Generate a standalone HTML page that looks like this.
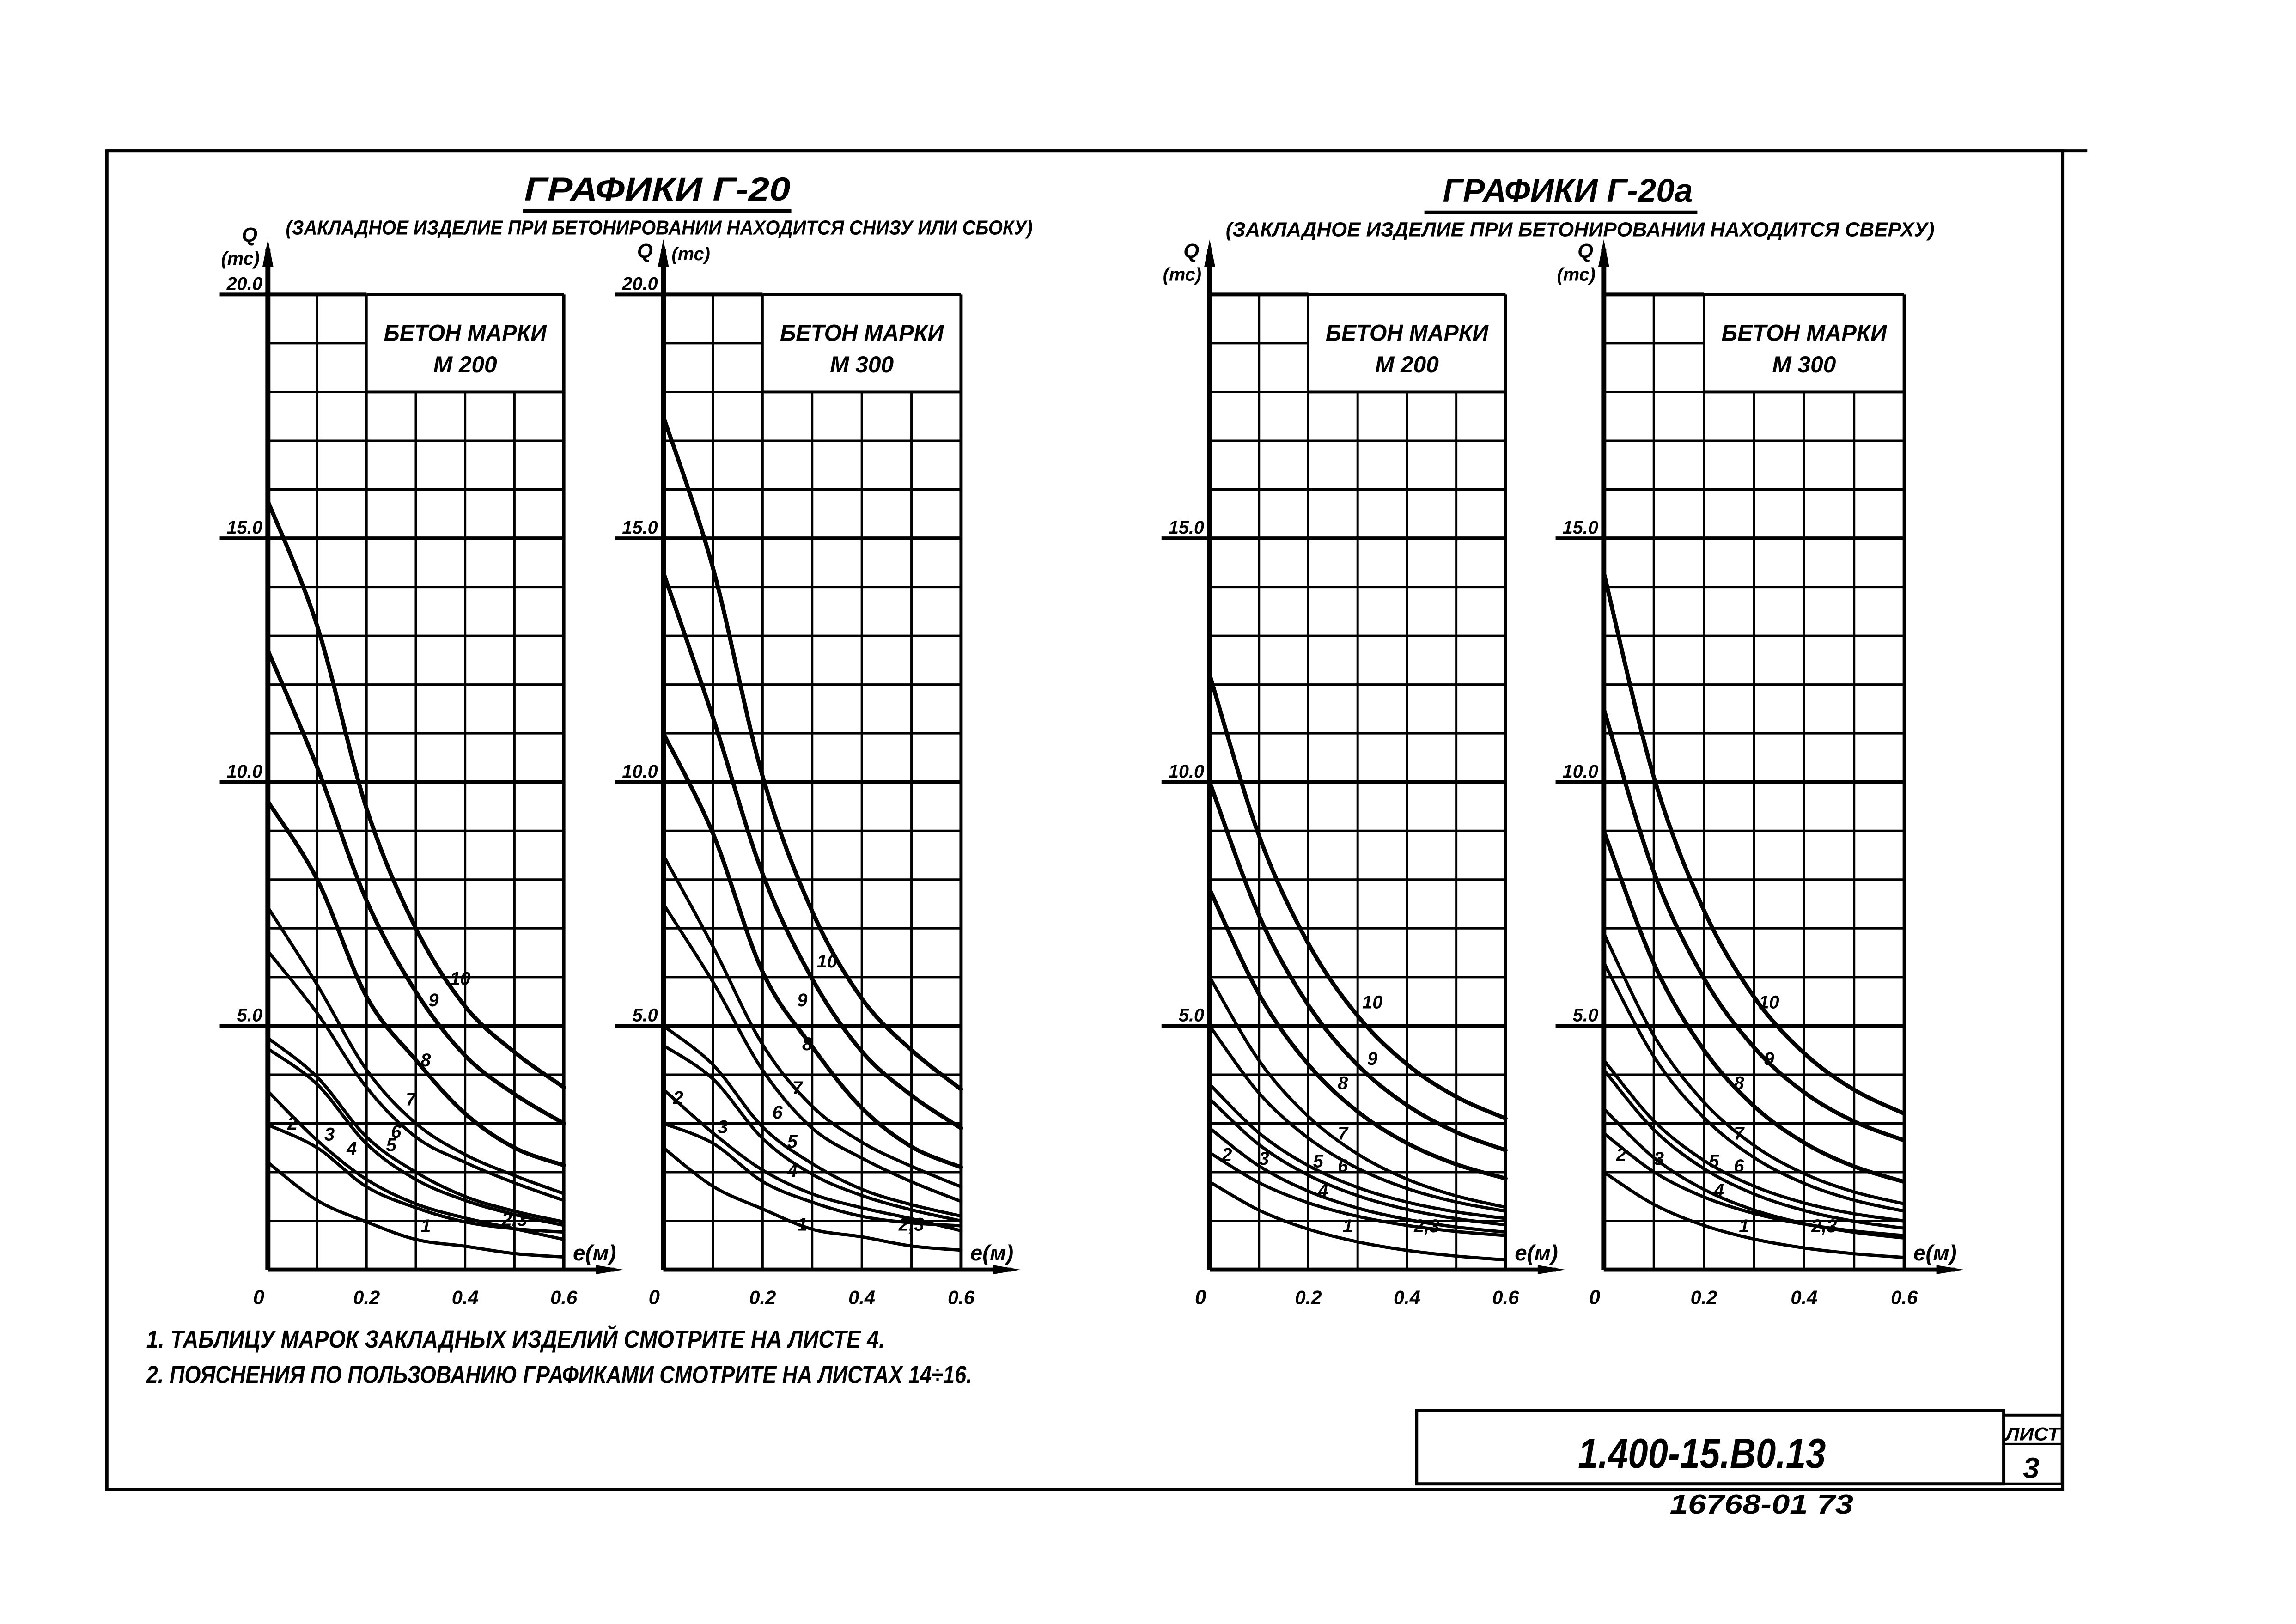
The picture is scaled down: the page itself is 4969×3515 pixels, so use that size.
<!DOCTYPE html>
<html><head><meta charset="utf-8">
<style>
html,body{margin:0;padding:0;background:#fff;}
svg{display:block;}
text{font-family:"Liberation Sans","DejaVu Sans",sans-serif;font-style:italic;font-weight:bold;fill:#000;}
</style></head>
<body>
<svg id="s" xmlns="http://www.w3.org/2000/svg" width="4969" height="3515" viewBox="0 0 4969 3515">
<rect width="4969" height="3515" fill="#fff"/>
<g transform="scale(0.9928)">
<rect x="233" y="329" width="4263" height="2918" fill="none" stroke="#000" stroke-width="7"/>
<line x1="233" y1="329" x2="4550" y2="329" stroke="#000" stroke-width="7"/>
<text x="1143" y="437" font-size="72" textLength="580" lengthAdjust="spacingAndGlyphs">ГРАФИКИ Г-20</text>
<line x1="1140" y1="460" x2="1725" y2="460" stroke="#000" stroke-width="8"/>
<text x="623" y="511" font-size="44" textLength="1628" lengthAdjust="spacingAndGlyphs">(ЗАКЛАДНОЕ ИЗДЕЛИЕ ПРИ БЕТОНИРОВАНИИ НАХОДИТСЯ СНИЗУ ИЛИ СБОКУ)</text>
<text x="3145" y="440" font-size="72" textLength="545" lengthAdjust="spacingAndGlyphs">ГРАФИКИ Г-20а</text>
<line x1="3105" y1="463" x2="3700" y2="463" stroke="#000" stroke-width="8"/>
<text x="2672" y="515" font-size="44" textLength="1545" lengthAdjust="spacingAndGlyphs">(ЗАКЛАДНОЕ ИЗДЕЛИЕ ПРИ БЕТОНИРОВАНИИ НАХОДИТСЯ СВЕРХУ)</text>
<text x="319" y="2938" font-size="54" textLength="1610" lengthAdjust="spacingAndGlyphs">1. ТАБЛИЦУ МАРОК ЗАКЛАДНЫХ ИЗДЕЛИЙ СМОТРИТЕ НА ЛИСТЕ 4.</text>
<text x="319" y="3015" font-size="54" textLength="1800" lengthAdjust="spacingAndGlyphs">2. ПОЯСНЕНИЯ ПО ПОЛЬЗОВАНИЮ ГРАФИКАМИ СМОТРИТЕ НА ЛИСТАХ 14÷16.</text>
<rect x="3088" y="3075" width="1280" height="160" fill="none" stroke="#000" stroke-width="7"/>
<rect x="4368" y="3085" width="127" height="150" fill="none" stroke="#000" stroke-width="6"/>
<line x1="4368" y1="3148" x2="4495" y2="3148" stroke="#000" stroke-width="5"/>
<text x="4372" y="3140" font-size="40" textLength="118" lengthAdjust="spacingAndGlyphs">ЛИСТ</text>
<text x="4410" y="3222" font-size="64">3</text>
<text x="3440" y="3200" font-size="92" textLength="540" lengthAdjust="spacingAndGlyphs">1.400-15.В0.13</text>
<text x="3640" y="3300" font-size="60" textLength="400" lengthAdjust="spacingAndGlyphs">16768-01   73</text>
<g id="charts"></g>
</g>
</svg>
<script>
(function(){
var NS="http://www.w3.org/2000/svg";
var g=document.getElementById('charts');
function el(n,a,t){var e=document.createElementNS(NS,n);for(var k in a)e.setAttribute(k,a[k]);if(t!==undefined)e.textContent=t;g.appendChild(e);return e;}
var Y0=2768,U=106.3;
var c1=[[2.2,1.42,0.98,0.62,0.48,0.33,0.26],[2.97,2.5,1.7,1.27,0.98,0.84,0.77],[3.66,2.65,1.85,1.35,1.06,0.84,0.62],
[4.53,3.8,2.58,1.85,1.42,1.13,0.91],[4.75,3.95,2.72,2.0,1.5,1.2,0.98],[6.53,5.26,3.74,2.72,2.2,1.78,1.42],
[7.43,5.84,4.1,3.0,2.36,1.93,1.56],[9.6,8.0,5.6,4.3,3.2,2.5,2.14],[12.7,10.3,7.57,5.7,4.39,3.6,3.0],[15.76,13.2,9.46,7.0,5.4,4.46,3.74]];
var s2=[2.5,3.0,3.7,4.6,5.0,7.5,8.5,11.0,14.3,17.5], e2=[0.4,0.9,0.8,1.0,1.1,1.4,1.7,2.1,2.9,3.7];
var c2=c1.map(function(a,i){var r0=s2[i]/a[0],r1=e2[i]/a[6];return a.map(function(v,j){return v*(r0+(r1-r0)*j/6);});});
function expo(s,e,k){var out=[];var z=Math.exp(-0.6*k);for(var j=0;j<=6;j++){var x=j*0.1;var gg=(Math.exp(-k*x)-z)/(1-z);out.push(e+(s-e)*gg);}return out;}
var s3=[1.8,2.4,2.9,3.5,3.8,5.0,6.0,7.8,10.0,12.2], e3=[0.2,0.7,0.77,0.92,1.05,1.2,1.28,1.87,2.45,3.1];
var s4=[2.0,2.8,3.3,4.1,4.3,6.3,6.9,9.0,11.5,14.3], e4=[0.25,0.7,0.65,0.85,1.0,1.2,1.35,1.8,2.65,3.2];
var c3=s3.map(function(s,i){return expo(s,e3[i],4);});
var c4=s4.map(function(s,i){return expo(s,e4[i],4.3);});
var L1=[[0.32,0.77,'1'],[0.05,2.87,'2'],[0.125,2.65,'3'],[0.17,2.36,'4'],[0.25,2.43,'5'],[0.26,2.7,'6'],[0.29,3.37,'7'],[0.32,4.17,'8'],[0.336,5.4,'9'],[0.39,5.84,'10'],[0.5,0.9,'2,3']];
var L2=[[0.28,0.8,'1'],[0.03,3.4,'2'],[0.12,2.8,'3'],[0.26,1.9,'4'],[0.26,2.5,'5'],[0.23,3.1,'6'],[0.27,3.6,'7'],[0.29,4.5,'8'],[0.28,5.4,'9'],[0.33,6.2,'10'],[0.5,0.8,'2,3']];
var L3=[[0.28,0.77,'1'],[0.035,2.23,'2'],[0.11,2.15,'3'],[0.23,1.5,'4'],[0.22,2.1,'5'],[0.27,2.0,'6'],[0.27,2.67,'7'],[0.27,3.7,'8'],[0.33,4.2,'9'],[0.33,5.36,'10'],[0.44,0.77,'2,3']];
var charts=[{x0:584,w:645,d:c1,L:L1,m:'М 200',t20:true,qy:-115,ty:-65,tx:-60},{x0:1446,w:649,d:c2,L:L2,m:'М 300',t20:true,qy:-80,ty:-75,tx:60},
{x0:2637,w:645,d:c3,L:L3,m:'М 200',t20:false,qy:-80,ty:-30,tx:-60},{x0:3496,w:655,d:c4,L:L3,m:'М 300',t20:false,qy:-80,ty:-30,tx:-60}];
charts.forEach(function(c){
 var x0=c.x0,x1=c.x0+c.w,cw=c.w/6,top=Y0-20*U;
 var bx=x0+2*cw, by=Y0-18*U;
 for(var q=1;q<=20;q++){
  var y=Y0-q*U; var thick=(q%5==0);
  var xs=x0; if(thick) xs=x0-(c.t20||q<20?105:0);
  if(q>18){ el('line',{x1:xs,y1:y,x2:bx,y2:y,stroke:'#000','stroke-width':thick?8:5}); if(q==20) el('line',{x1:bx,y1:y,x2:x1,y2:y,stroke:'#000','stroke-width':6}); }
  else el('line',{x1:xs,y1:y,x2:x1,y2:y,stroke:'#000','stroke-width':thick?8:5});
 }
 for(var i=1;i<=6;i++){
  var x=x0+i*cw; var yt=(i>=3&&i<6)?by:top;
  el('line',{x1:x,y1:yt,x2:x,y2:Y0,stroke:'#000','stroke-width':i==6?7:5});
 }
 el('line',{x1:bx,y1:by,x2:x1,y2:by,stroke:'#000','stroke-width':6});
 el('text',{x:bx+cw*2,y:Y0-19.05*U,'font-size':50,'text-anchor':'middle',textLength:cw*3.3,lengthAdjust:'spacingAndGlyphs'},'БЕТОН МАРКИ');
 el('text',{x:bx+cw*2,y:Y0-18.4*U,'font-size':50,'text-anchor':'middle'},c.m);
 el('line',{x1:x0,y1:Y0,x2:x0,y2:top-100,stroke:'#000','stroke-width':11});
 el('path',{d:'M'+(x0-12)+','+(top-60)+' L'+x0+','+(top-120)+' L'+(x0+12)+','+(top-60)+'Z',fill:'#000'});
 el('line',{x1:x0,y1:Y0,x2:x1+110,y2:Y0,stroke:'#000','stroke-width':9});
 el('path',{d:'M'+(x1+70)+','+(Y0-10)+' L'+(x1+130)+','+Y0+' L'+(x1+70)+','+(Y0+10)+'Z',fill:'#000'});
 var labs=c.t20?[20,15,10,5]:[15,10,5];
 labs.forEach(function(v){el('text',{x:x0-12,y:Y0-v*U-10,'font-size':40,'text-anchor':'end'},v.toFixed(1));});
 el('text',{x:x0-40,y:top+c.qy,'font-size':44,'text-anchor':'middle'},'Q');
 el('text',{x:x0+c.tx,y:top+c.ty,'font-size':40,'text-anchor':'middle'},'(тс)');
 el('text',{x:x0-20,y:Y0+75,'font-size':44,'text-anchor':'middle'},'0');
 el('text',{x:x0+2*cw,y:Y0+75,'font-size':42,'text-anchor':'middle'},'0.2');
 el('text',{x:x0+4*cw,y:Y0+75,'font-size':42,'text-anchor':'middle'},'0.4');
 el('text',{x:x1,y:Y0+75,'font-size':42,'text-anchor':'middle'},'0.6');
 el('text',{x:x1+20,y:Y0-20,'font-size':48},'e(м)');
 c.d.forEach(function(a,idx){
  var P=a.map(function(v,j){return [x0+j*cw,Y0-v*U];});
  var d='M'+P[0][0]+','+P[0][1];
  for(var j=0;j<6;j++){
   var p0=P[Math.max(0,j-1)],p1=P[j],p2=P[j+1],p3=P[Math.min(6,j+2)];
   var c1x=p1[0]+(p2[0]-p0[0])/6,c1y=p1[1]+(p2[1]-p0[1])/6,c2x=p2[0]-(p3[0]-p1[0])/6,c2y=p2[1]-(p3[1]-p1[1])/6;
   d+=' C'+c1x+','+c1y+' '+c2x+','+c2y+' '+p2[0]+','+p2[1];
  }
  el('path',{d:d,fill:'none',stroke:'#000','stroke-width':idx>=7?9:7,'stroke-linecap':'round'});
 });
 c.L.forEach(function(l){el('text',{x:x0+l[0]/0.1*cw,y:Y0-l[1]*U,'font-size':40,'text-anchor':'middle'},l[2]);});
});
})();
</script>
</body></html>
